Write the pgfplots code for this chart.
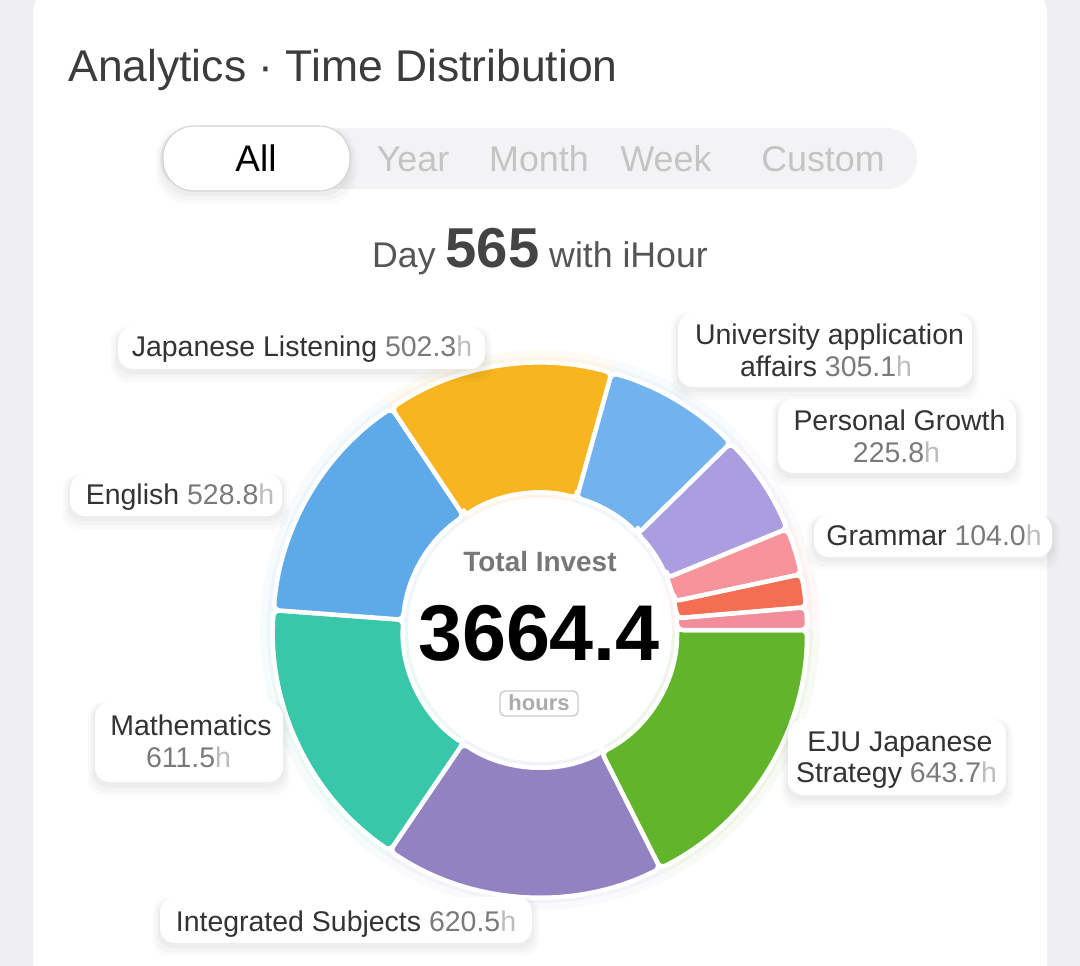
\documentclass[border=0pt]{standalone}
\usepackage{pgfplots}
\pgfplotsset{compat=1.18}
\usepackage{pgfplotstable}
\usepackage{fontspec}
\setmainfont{Liberation Sans}

\definecolor{bggray}{HTML}{EFEFF1}
\definecolor{titlec}{HTML}{3C3C3C}
\definecolor{segtxt}{HTML}{C4C4C4}
\definecolor{pillbg}{HTML}{F3F3F5}
\definecolor{pillbd}{HTML}{D2D2D2}
\definecolor{dayc}{HTML}{555555}
\definecolor{namec}{HTML}{333333}
\definecolor{valc}{HTML}{7A7A7A}
\definecolor{hc}{HTML}{BDBDBD}
\definecolor{totc}{HTML}{777777}
\definecolor{hoursc}{HTML}{ABABAB}
\definecolor{hoursbd}{HTML}{CACACA}
% segment colours (clockwise from 3 o'clock)
\definecolor{seg0}{HTML}{62B52B}
\definecolor{seg1}{HTML}{9382C2}
\definecolor{seg2}{HTML}{38C7A8}
\definecolor{seg3}{HTML}{5EA9E8}
\definecolor{seg4}{HTML}{F7B520}
\definecolor{seg5}{HTML}{72B3EE}
\definecolor{seg6}{HTML}{AB9EE0}
\definecolor{seg7}{HTML}{F7939A}
\definecolor{seg8}{HTML}{F36E52}
\definecolor{seg9}{HTML}{F28E9B}

\pgfplotstableread[col sep=comma]{
name,value
EJU Japanese Strategy,643.7
Integrated Subjects,620.5
Mathematics,611.5
English,528.8
Japanese Listening,502.3
University application affairs,305.1
Personal Growth,225.8
Grammar,104.0
Other A,72.9
Other B,49.8
}\hoursdata

\newcommand\fs[1]{\fontsize{#1}{#1}\selectfont}
\def\Rout{5.34cm}
\def\Rin{2.74cm}
\def\Rglowa{5.46cm}
\def\Rglowb{5.60cm}
\def\Rglowin{2.60cm}

% white rounded box with a soft shadow below it
\newcommand\softbox[5]{%
  \fill[black, opacity=0.018, rounded corners=#5] ([shift={(-0.14cm,0.0cm)}]axis cs:#1,#2) rectangle ([shift={(0.14cm,-0.26cm)}]axis cs:#3,#4);
  \fill[black, opacity=0.022, rounded corners=#5] ([shift={(-0.09cm,-0.02cm)}]axis cs:#1,#2) rectangle ([shift={(0.09cm,-0.19cm)}]axis cs:#3,#4);
  \fill[black, opacity=0.028, rounded corners=#5] ([shift={(-0.04cm,-0.03cm)}]axis cs:#1,#2) rectangle ([shift={(0.04cm,-0.11cm)}]axis cs:#3,#4);
  \fill[white, rounded corners=#5] (axis cs:#1,#2) rectangle (axis cs:#3,#4);
}

\begin{document}
\begin{tikzpicture}
\begin{axis}[scale only axis, width=21.6cm, height=19.32cm,
  xmin=0, xmax=1080, ymin=0, ymax=966, y dir=reverse,
  hide axis, clip=false, at={(0,0)}, anchor=south west]

% background and card
\fill[bggray] (axis cs:-5,-5) rectangle (axis cs:1085,971);
\fill[white, rounded corners=0.7cm] (axis cs:33,-20) rectangle (axis cs:1047,1030);

% title
\node[anchor=base west, text=titlec, font=\fs{25.3pt}, inner sep=0pt] at (axis cs:68,82) {Analytics · Time Distribution};

% segmented control
\fill[pillbg, rounded corners=0.6cm] (axis cs:160,128) rectangle (axis cs:917,189);
\softbox{163}{126}{350}{191}{0.62cm}
\draw[pillbd, line width=0.6pt, rounded corners=0.62cm] (axis cs:163,126) rectangle (axis cs:350,191);
\node[anchor=base, text=black, font=\fs{21pt}, inner sep=0pt] at (axis cs:256,172) {All};
\node[anchor=base, text=segtxt, font=\fs{20.4pt}, inner sep=0pt] at (axis cs:413,172) {Year};
\node[anchor=base, text=segtxt, font=\fs{20.4pt}, inner sep=0pt] at (axis cs:539,172) {Month};
\node[anchor=base, text=segtxt, font=\fs{20.4pt}, inner sep=0pt] at (axis cs:666,172) {Week};
\node[anchor=base, text=segtxt, font=\fs{20.4pt}, inner sep=0pt] at (axis cs:823,172) {Custom};

% day line
\node[anchor=base, text=dayc, font=\fs{20.3pt}, inner sep=0pt] at (axis cs:540,268)
  {Day {\fs{32pt}\bfseries\color[HTML]{444444}565} with iHour};

% donut wedges from the table
\pgfmathsetmacro\total{0}
\pgfplotsforeachungrouped \i in {0,...,9}{%
  \pgfplotstablegetelem{\i}{value}\of\hoursdata
  \pgfmathsetmacro\total{\total+\pgfplotsretval}%
}
% soft coloured halo
\def\cum{0}
\pgfplotsforeachungrouped \i in {0,...,9}{%
  \pgfplotstablegetelem{\i}{value}\of\hoursdata
  \pgfmathsetmacro\a{-360*(\cum/\total)}%
  \pgfmathsetmacro\cum{\cum+\pgfplotsretval}%
  \pgfmathsetmacro\b{-360*(\cum/\total)}%
  \edef\temp{\noexpand\fill[fill=seg\i, opacity=0.045]
    ([shift={(\a:\Rglowin)}]axis cs:540,630) -- ([shift={(\a:\Rglowb)}]axis cs:540,630)
    arc[start angle=\a, end angle=\b, radius=\Rglowb]
    -- ([shift={(\b:\Rglowin)}]axis cs:540,630)
    arc[start angle=\b, end angle=\a, radius=\Rglowin] -- cycle;
    \noexpand\fill[fill=seg\i, opacity=0.06]
    ([shift={(\a:\Rglowin)}]axis cs:540,630) -- ([shift={(\a:\Rglowa)}]axis cs:540,630)
    arc[start angle=\a, end angle=\b, radius=\Rglowa]
    -- ([shift={(\b:\Rglowin)}]axis cs:540,630)
    arc[start angle=\b, end angle=\a, radius=\Rglowin] -- cycle;}%
  \temp
}
\fill[white] (axis cs:540,630) circle[radius=2.64cm];
% wedges
\def\cum{0}
\pgfplotsforeachungrouped \i in {0,...,9}{%
  \pgfplotstablegetelem{\i}{value}\of\hoursdata
  \pgfmathsetmacro\a{-360*(\cum/\total)}%
  \pgfmathsetmacro\cum{\cum+\pgfplotsretval}%
  \pgfmathsetmacro\b{-360*(\cum/\total)}%
  \edef\temp{\noexpand\fill[fill=seg\i, draw=white, line width=0.09cm, rounded corners=0.12cm, line join=round]
    ([shift={(\a:\Rin)}]axis cs:540,630) -- ([shift={(\a:\Rout)}]axis cs:540,630)
    arc[start angle=\a, end angle=\b, radius=\Rout]
    -- ([shift={(\b:\Rin)}]axis cs:540,630)
    arc[start angle=\b, end angle=\a, radius=\Rin] -- cycle;}%
  \temp
}

% centre texts
\node[anchor=base, text=totc, font=\fs{15.9pt}\bfseries, inner sep=0pt] at (axis cs:540,572) {Total Invest};
\node[anchor=base, text=black, font=\fs{45pt}\bfseries, inner sep=0pt] at (axis cs:539,660) {3664.4};
\draw[hoursbd, line width=0.8pt, rounded corners=0.1cm] (axis cs:500,691) rectangle (axis cs:578,716);
\node[anchor=base, text=hoursc, font=\fs{12.5pt}\bfseries, inner sep=0pt] at (axis cs:539,710) {hours};

% label boxes
\tikzset{lt/.style={anchor=base, font=\fs{16.2pt}, inner sep=0pt, text=namec}}
\newcommand\val[1]{{\color{valc}#1}{\color{hc}h}}

\softbox{118}{327}{485}{369}{0.3cm}
\node[lt] at (axis cs:302,357) {Japanese Listening \val{502.3}};

\softbox{70}{474}{282}{516}{0.3cm}
\node[lt] at (axis cs:180,505) {English \val{528.8}};

\softbox{678}{313}{972}{387}{0.3cm}
\node[lt] at (axis cs:829.5,345) {University application};
\node[lt] at (axis cs:826,377) {affairs \val{305.1}};

\softbox{778}{399}{1016}{473}{0.3cm}
\node[lt] at (axis cs:899.5,431) {Personal Growth};
\node[lt] at (axis cs:896.5,463) {\val{225.8}};

\softbox{814}{515}{1052}{557}{0.3cm}
\node[lt] at (axis cs:934,546) {Grammar \val{104.0}};

\softbox{788}{719}{1006}{795}{0.3cm}
\node[lt] at (axis cs:900,751) {EJU Japanese};
\node[lt] at (axis cs:896.5,782) {Strategy \val{643.7}};

\softbox{95}{702}{283}{782}{0.3cm}
\node[lt] at (axis cs:191,735) {Mathematics};
\node[lt] at (axis cs:188.5,767) {\val{611.5}};

\softbox{160}{897}{532}{943}{0.3cm}
\node[lt] at (axis cs:346,931) {Integrated Subjects \val{620.5}};

\end{axis}
\pgfresetboundingbox
\path[use as bounding box] (0,0) rectangle (21.6cm,19.32cm);
\end{tikzpicture}
\end{document}
